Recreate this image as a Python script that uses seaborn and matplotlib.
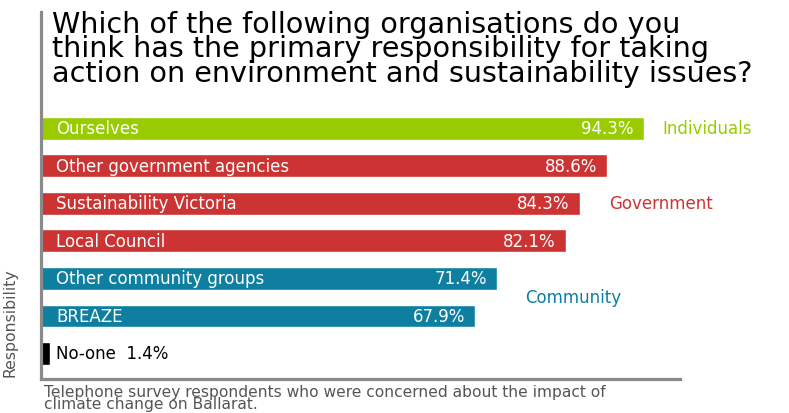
import matplotlib
matplotlib.use("Agg")
import matplotlib.pyplot as plt
import seaborn as sns
import pandas as pd

categories = ["Ourselves", "Other government agencies", "Sustainability Victoria",
              "Local Council", "Other community groups", "BREAZE", "No-one"]
values = [94.3, 88.6, 84.3, 82.1, 71.4, 67.9, 1.4]
groups = ["Individuals", "Government", "Government", "Government",
          "Community", "Community", "None"]
group_colors = {"Individuals": "#99cc00", "Government": "#cc3333",
                "Community": "#0e7fa0", "None": "#000000"}
group_label_pos = {"Individuals": 0, "Government": 2, "Community": 4.5}

title = ("Which of the following organisations do you\n"
         "think has the primary responsibility for taking\n"
         "action on environment and sustainability issues?")
footer = ("Telephone survey respondents who were concerned about the impact of\n"
          "climate change on Ballarat.")

sns.set_theme(style="white")
plt.rcParams["font.family"] = ["DejaVu Sans"]

df = pd.DataFrame({"cat": categories, "val": values, "grp": groups})

W, H = 789, 414
fig = plt.figure(figsize=(W / 100, H / 100), dpi=100)
ax = fig.add_axes([41 / W, (H - 380) / H, (680 - 41) / W, (380 - 13) / H])

sns.barplot(data=df, y="cat", x="val", hue="grp", palette=group_colors,
            orient="h", width=0.61, dodge=False, legend=False, ax=ax,
            saturation=1)

ax.set_xlim(0, 100)
ax.set_ylim(6.68, -3.1)
ax.set_xticks([])
ax.set_yticks([])
ax.set_xlabel("")
ax.set_ylabel("Responsibility", fontsize=11.3, color="#555555")
ax.yaxis.set_label_coords(-0.036, 0.155)
for s in ["top", "right"]:
    ax.spines[s].set_visible(False)
for s in ["left", "bottom"]:
    ax.spines[s].set_color("#8a8a8a")
    ax.spines[s].set_linewidth(2.3)

fs = 12
for i, (c, v, g) in enumerate(zip(categories, values, groups)):
    if g == "None":
        ax.text(2.35, i, f"{c}  {v}%", color="black", fontsize=fs,
                va="center", ha="left")
    else:
        ax.text(2.35, i, c, color="white", fontsize=fs, va="center", ha="left")
        ax.text(v - 1.55, i, f"{v}%", color="white", fontsize=fs,
                va="center", ha="right")

label_x = {"Individuals": 97.2, "Government": 88.9, "Community": 75.7}
for g, y in group_label_pos.items():
    ax.text(label_x[g], y, g, color=group_colors[g], fontsize=fs,
            va="center", ha="left")

fig.text(52 / W, 1 - 11 / H, title, fontsize=20.6, color="black",
         va="top", ha="left", linespacing=0.84)
fig.text(44 / W, 1 - 412.5 / H, footer, fontsize=11.2, color="#555555",
         va="bottom", ha="left", linespacing=0.76)

fig.savefig("out.png", dpi=100)
